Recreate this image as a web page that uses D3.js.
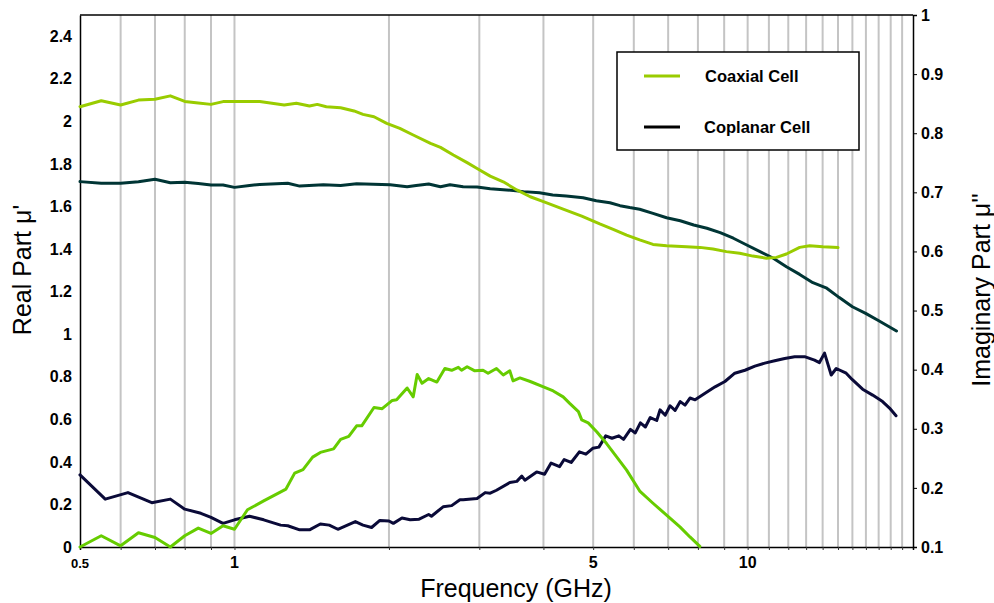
<!DOCTYPE html>
<html>
<head>
<meta charset="utf-8">
<script src="https://cdn.jsdelivr.net/npm/d3@7"></script>
<style>
  html, body { margin: 0; padding: 0; background: #fff; }
  svg { display: block; font-family: "Liberation Sans", Arial, sans-serif; }
</style>
</head>
<body>
<svg id="chart" width="994" height="603"></svg>
<script>
// ---------------- DATA ----------------
const seriesNames = ["Coaxial Cell", "Coplanar Cell"];

const coaxRealFreq = [0.5,0.55,0.6,0.65,0.7,0.75,0.8,0.85,0.9,0.95,1.0,1.12,1.25,1.32,1.4,1.45,1.51,1.61,1.71,1.78,1.87,1.98,2.1,2.23,2.41,2.52,2.67,2.84,2.97,3.15,3.34,3.55,3.77,4.0,4.37,4.75,5.15,5.47,5.81,6.16,6.54,6.95,7.6,8.07,8.56,9.09,9.65,10.24,10.88,11.38,11.9,12.63,13.21,14.02,15.0];
const coaxReal = [2.069,2.097,2.077,2.10,2.104,2.12,2.094,2.087,2.08,2.093,2.094,2.093,2.077,2.085,2.072,2.08,2.069,2.064,2.049,2.033,2.022,1.991,1.967,1.936,1.897,1.878,1.842,1.806,1.779,1.743,1.716,1.678,1.646,1.623,1.588,1.555,1.518,1.493,1.466,1.443,1.422,1.416,1.411,1.408,1.40,1.388,1.38,1.367,1.357,1.361,1.377,1.408,1.416,1.411,1.407];

const coplRealFreq = [0.5,0.55,0.6,0.65,0.7,0.75,0.8,0.85,0.9,0.95,1.0,1.07,1.12,1.27,1.34,1.49,1.61,1.73,2.01,2.17,2.26,2.39,2.52,2.63,2.79,2.97,3.15,3.39,3.66,3.93,4.17,4.43,4.78,5.07,5.39,5.64,5.89,6.16,6.54,6.95,7.39,7.85,8.33,8.84,9.38,9.96,10.57,11.22,11.9,12.63,13.4,14.22,15.09,16.0,16.98,18.01,19.5];
const coplReal = [1.717,1.709,1.709,1.716,1.728,1.712,1.714,1.708,1.701,1.701,1.690,1.699,1.704,1.709,1.696,1.702,1.699,1.707,1.702,1.693,1.699,1.706,1.693,1.702,1.693,1.692,1.684,1.678,1.670,1.665,1.654,1.649,1.641,1.627,1.618,1.604,1.595,1.587,1.568,1.547,1.533,1.513,1.498,1.477,1.451,1.419,1.388,1.357,1.317,1.281,1.242,1.218,1.172,1.129,1.098,1.063,1.015];

const coaxImagFreq = [0.5,0.55,0.6,0.65,0.7,0.75,0.8,0.85,0.9,0.95,1.0,1.06,1.14,1.26,1.31,1.36,1.42,1.47,1.56,1.61,1.67,1.73,1.77,1.87,1.94,2.03,2.07,2.17,2.23,2.27,2.32,2.39,2.48,2.57,2.65,2.73,2.77,2.84,2.94,3.05,3.12,3.24,3.34,3.44,3.49,3.6,3.77,4.0,4.18,4.37,4.5,4.68,4.75,4.89,5.08,5.31,5.55,5.81,6.17,6.54,6.95,7.38,7.72,8.07];
const coaxImag = [0.1,0.119,0.102,0.124,0.116,0.1,0.119,0.132,0.123,0.136,0.13,0.163,0.178,0.198,0.225,0.231,0.252,0.260,0.266,0.282,0.287,0.305,0.305,0.336,0.334,0.348,0.349,0.369,0.354,0.392,0.377,0.385,0.379,0.402,0.399,0.404,0.399,0.405,0.398,0.399,0.394,0.402,0.391,0.398,0.381,0.386,0.380,0.371,0.364,0.354,0.343,0.329,0.315,0.310,0.295,0.275,0.253,0.230,0.194,0.174,0.154,0.134,0.117,0.101];

const coplImagFreq = [0.5,0.56,0.62,0.69,0.75,0.8,0.86,0.9,0.95,1.0,1.07,1.14,1.23,1.27,1.34,1.4,1.47,1.53,1.59,1.72,1.78,1.85,1.92,2.0,2.04,2.12,2.2,2.29,2.39,2.42,2.55,2.65,2.75,2.79,2.97,3.08,3.15,3.24,3.44,3.55,3.63,3.68,3.88,4.02,4.14,4.3,4.39,4.53,4.7,4.84,4.99,5.13,5.29,5.44,5.61,5.73,5.91,6.04,6.18,6.32,6.46,6.65,6.75,6.91,7.06,7.22,7.39,7.55,7.72,7.9,8.26,8.64,9.03,9.44,9.88,10.33,10.8,11.29,11.81,12.35,12.91,13.5,13.8,14.12,14.55,14.88,15.56,16.0,16.75,17.52,18.32,18.9,19.46];
const coplImag = [0.222,0.181,0.192,0.175,0.181,0.164,0.157,0.150,0.140,0.146,0.152,0.146,0.137,0.136,0.129,0.129,0.139,0.137,0.130,0.143,0.137,0.133,0.145,0.144,0.140,0.149,0.146,0.147,0.155,0.152,0.168,0.170,0.180,0.180,0.182,0.192,0.191,0.196,0.209,0.211,0.220,0.213,0.227,0.223,0.242,0.236,0.248,0.243,0.261,0.257,0.267,0.269,0.288,0.284,0.288,0.282,0.299,0.293,0.310,0.303,0.319,0.314,0.332,0.323,0.339,0.331,0.346,0.340,0.352,0.349,0.360,0.371,0.380,0.394,0.399,0.406,0.411,0.415,0.419,0.422,0.422,0.416,0.412,0.428,0.391,0.402,0.394,0.383,0.367,0.357,0.346,0.335,0.322];

const leftTicks = [0,0.2,0.4,0.6,0.8,1,1.2,1.4,1.6,1.8,2,2.2,2.4];
const rightTicks = [0.1,0.2,0.3,0.4,0.5,0.6,0.7,0.8,0.9,1];
const xLabelTicks = [0.5,1,5,10];
const xGridTicks = [0.6,0.7,0.8,0.9,1,2,3,4,5,6,7,8,9,10,11,12,13,14,15,16,17,18,19,20];

// ---------------- LAYOUT ----------------
const svg = d3.select("#chart");
const L = 80, R = 913, T = 15, B = 547;

const x = d3.scaleLog().domain([0.5, 21]).range([L, R]);
const yL = d3.scaleLinear().domain([0, 2.5]).range([B, T]);
const yR = d3.scaleLinear().domain([0.1, 1]).range([B, T]);

// grid lines
svg.append("g").selectAll("line").data(xGridTicks).join("line")
  .attr("x1", d => x(d)).attr("x2", d => x(d))
  .attr("y1", T).attr("y2", B)
  .attr("stroke", "#c4c4c4").attr("stroke-width", 2);

// bottom axis (ticks at grid positions, labels only at selected)
const xAxis = d3.axisBottom(x).tickValues(xGridTicks).tickSize(3).tickFormat("");
const gx = svg.append("g").attr("transform", `translate(0,${B})`).call(xAxis);
gx.select(".domain").attr("stroke", "#000").attr("stroke-width", 1.5);
gx.selectAll(".tick line").attr("stroke", "#333");

svg.append("g").selectAll("text").data(xLabelTicks).join("text")
  .attr("x", d => x(d)).attr("y", 568)
  .attr("text-anchor", "middle")
  .attr("font-weight", "bold")
  .attr("font-size", d => d === 0.5 ? 13 : 16)
  .text(d => d);

// left axis
const gyL = svg.append("g").attr("transform", `translate(${L},0)`)
  .call(d3.axisLeft(yL).tickValues(leftTicks).tickSize(0).tickPadding(8).tickFormat(d => d3.format("")(+d.toFixed(1))));
gyL.select(".domain").attr("stroke", "#000").attr("stroke-width", 1.5);
gyL.selectAll("text").attr("font-size", 16).attr("font-weight", "bold").attr("fill", "#000")
  .attr("font-family", "Liberation Sans, Arial, sans-serif");

// right axis
const gyR = svg.append("g").attr("transform", `translate(${R},0)`)
  .call(d3.axisRight(yR).tickValues(rightTicks).tickSize(4).tickPadding(4).tickFormat(d => d3.format("")(+d.toFixed(1))));
gyR.select(".domain").attr("stroke", "#000").attr("stroke-width", 1.5);
gyR.selectAll("text").attr("font-size", 16).attr("font-weight", "bold").attr("fill", "#000")
  .attr("font-family", "Liberation Sans, Arial, sans-serif");

// top border
svg.append("line").attr("x1", L).attr("x2", R).attr("y1", T).attr("y2", T)
  .attr("stroke", "#000").attr("stroke-width", 1.5);

// curves
function drawLine(fr, vals, yScale, color) {
  const data = fr.map((f, i) => [f, vals[i]]);
  svg.append("path").datum(data)
    .attr("fill", "none").attr("stroke", color).attr("stroke-width", 3)
    .attr("stroke-linejoin", "round").attr("stroke-linecap", "round")
    .attr("d", d3.line().x(d => x(d[0])).y(d => yScale(d[1])));
}
drawLine(coplRealFreq, coplReal, yL, "#003535");
drawLine(coaxRealFreq, coaxReal, yL, "#99cc00");
drawLine(coplImagFreq, coplImag, yR, "#0a0a38");
drawLine(coaxImagFreq, coaxImag, yR, "#66cc00");

// axis titles
svg.append("text").attr("transform", "translate(31,270) rotate(-90)")
  .attr("text-anchor", "middle").attr("font-size", 25).text("Real Part μ'");
svg.append("text").attr("transform", "translate(990,290) rotate(-90)")
  .attr("text-anchor", "middle").attr("font-size", 25).text("Imaginary Part μ''");
svg.append("text").attr("x", 516).attr("y", 597)
  .attr("text-anchor", "middle").attr("font-size", 25).text("Frequency (GHz)");

// legend
const lg = svg.append("g");
lg.append("rect").attr("x", 617).attr("y", 52).attr("width", 242).attr("height", 98)
  .attr("fill", "#fff").attr("stroke", "#000").attr("stroke-width", 1.5);
const legendColors = ["#99cc00", "#000000"];
const legendY = [76, 127];
seriesNames.forEach((name, i) => {
  lg.append("line").attr("x1", 644).attr("x2", 680).attr("y1", legendY[i]).attr("y2", legendY[i])
    .attr("stroke", legendColors[i]).attr("stroke-width", 3);
  lg.append("text").attr("x", i === 0 ? 705 : 704).attr("y", legendY[i] + 6)
    .attr("font-size", 16.5).attr("font-weight", "bold").text(name);
});
</script>
</body>
</html>
